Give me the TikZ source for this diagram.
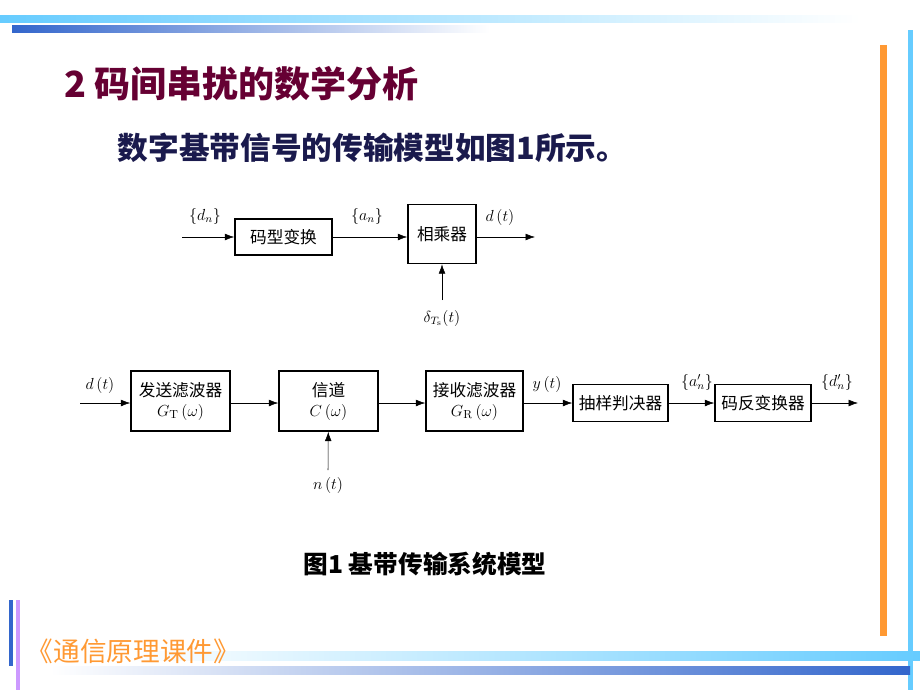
\documentclass[tikz,border=0pt]{standalone}
\usepackage{fontspec}
\usepackage{amsmath}
\newfontfamily\cjk{Noto Sans CJK SC}
\usetikzlibrary{shapes,positioning,arrows.meta}
\definecolor{barblue}{HTML}{3366CC}
\definecolor{barcyan}{HTML}{66CCFF}
\definecolor{barorange}{HTML}{FF9933}
\definecolor{barpurple}{HTML}{CC99FF}
\definecolor{titlered}{HTML}{660033}
\definecolor{subblue}{HTML}{1A1A4D}
\tikzset{blk/.style={rectangle,draw,line width=1.1pt,font=\cjk\fontsize{12.5}{14}\selectfont,align=center,inner sep=0pt},
         lab/.style={font=\fontsize{12}{14}\selectfont}}

\begin{document}
\begin{tikzpicture}[x=0.75pt,y=-0.75pt,>={Latex[length=7pt,width=5pt]}]
    \useasboundingbox (0,0) rectangle (920,690);
    % decoration bars
    \shade[left color=barcyan,right color=white] (0,15) rectangle (860,22);
    \shade[left color=barblue,right color=white] (12,25) rectangle (490,32);
    \fill[barorange] (880,45) rectangle (887,636);
    \fill[barcyan] (908,30) rectangle (913,690);
    \fill[barblue] (9,600) rectangle (13,666);
    \fill[barpurple] (16,600) rectangle (20,690);
    \shade[left color=white,right color=barcyan] (130,651) rectangle (920,660);
    \shade[left color=white,right color=barblue] (50,666) rectangle (910,674);

    % texts
    \node[anchor=west,text=titlered,font=\cjk\bfseries\fontsize{27}{30}\selectfont] (title) at (60,84) {2 码间串扰的数学分析};
    \node[anchor=west,text=subblue,font=\cjk\bfseries\fontsize{23}{26}\selectfont] (sub) at (113,148) {数字基带信号的传输模型如图1所示。};
    \node[font=\cjk\bfseries\fontsize{18.5}{21}\selectfont] (cap) at (425,564) {图1 基带传输系统模型};
    \node[anchor=west,text=barorange,font=\cjk\fontsize{20}{22}\selectfont] (foot) at (22,651) {《通信原理课件》};

    % upper chain
    \node[blk,minimum width=97pt*0.75,minimum height=36pt*0.75] (code) at (283.5,237) {码型变换};
    \node[blk,minimum width=68pt*0.75,minimum height=59pt*0.75] (mul) at (442,234) {相乘器};
    \coordinate (in1) at (182,237);
    \coordinate (out1) at (535,237);
    \coordinate (dl) at (442,300);
    \node[lab] at (205,216) {$\{d_n\}$};
    \node[lab] at (367,216) {$\{a_n\}$};
    \node[lab] at (500,217) {$d\,(t)$};
    \node[lab] at (442,318) {$\delta_{T_{\mathrm{s}}}(t)$};

    \draw [->] (in1) to (code);
    \draw [->] (code) to (code -| mul.west);
    \draw [->] (mul.east |- code) to (out1);
    \draw [->] (dl) to (mul);

    % lower chain
    \node[blk,minimum width=99pt*0.75,minimum height=60pt*0.75] (tx) at (180.5,401) {发送滤波器\\[1pt]$G_{\mathrm{T}}\,(\omega)$};
    \node[blk,minimum width=99pt*0.75,minimum height=60pt*0.75] (ch) at (328.5,401) {信道\\[1pt]$C\,(\omega)$};
    \node[blk,minimum width=97pt*0.75,minimum height=60pt*0.75] (rx) at (474.5,401) {接收滤波器\\[1pt]$G_{\mathrm{R}}\,(\omega)$};
    \node[blk,minimum width=95pt*0.75,minimum height=37pt*0.75] (smp) at (620.5,403) {抽样判决器};
    \node[blk,minimum width=96pt*0.75,minimum height=37pt*0.75] (dec) at (763,403) {码反变换器};
    \coordinate (in2) at (80,403);
    \coordinate (out2) at (858,403);
    \coordinate (nl) at (328,470);
    \node[lab] at (100,385) {$d\,(t)$};
    \node[lab] at (547,384) {$y\,(t)$};
    \node[lab] at (697,382) {$\{a'_n\}$};
    \node[lab] at (837,382) {$\{d'_n\}$};
    \node[lab] at (328,485) {$n\,(t)$};

    \draw [->] (in2) to (in2 -| tx.west);
    \draw [->] (tx.east |- in2) to (in2 -| ch.west);
    \draw [->] (ch.east |- in2) to (in2 -| rx.west);
    \draw [->] (rx.east |- in2) to (smp);
    \draw [->] (smp) to (dec);
    \draw [->] (dec) to (out2);
    \draw [->] (nl) to (ch);
\end{tikzpicture}
\end{document}
